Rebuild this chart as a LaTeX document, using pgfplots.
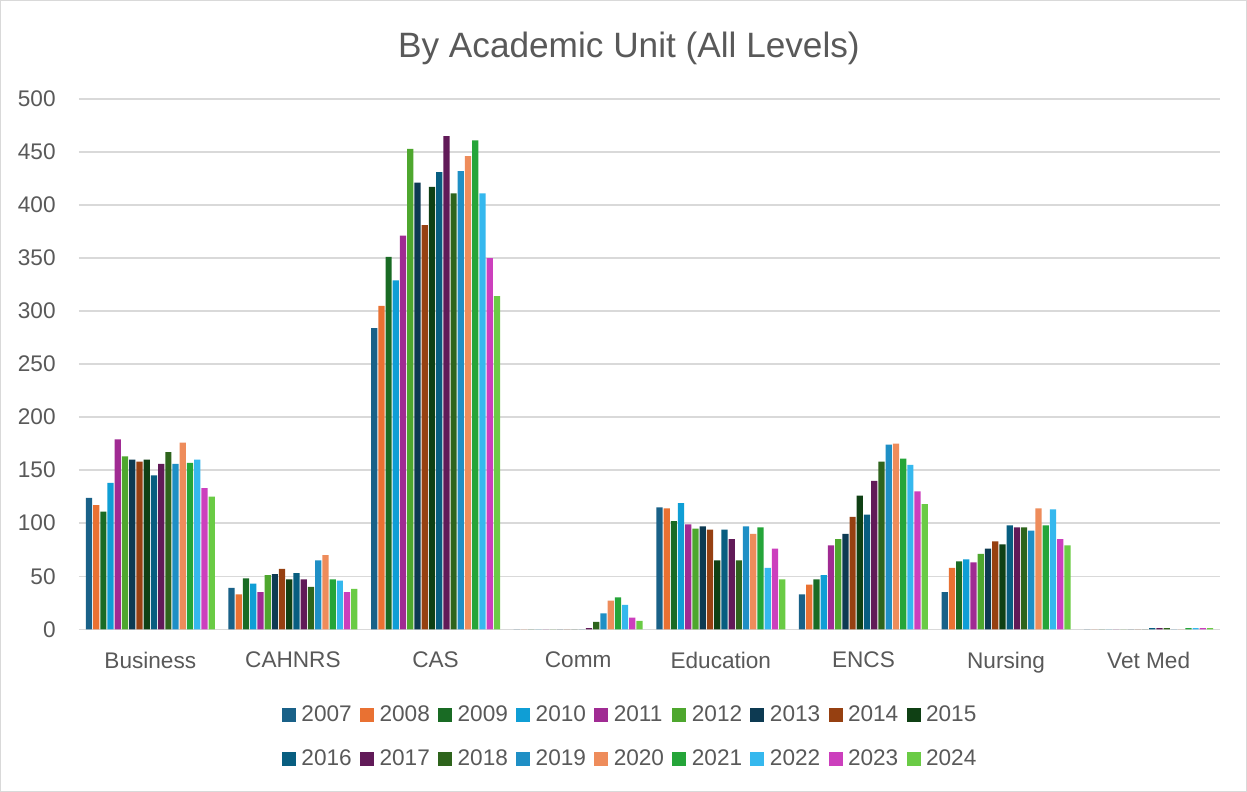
\documentclass[border=0pt]{standalone}
\usepackage{pgfplots}
\usepackage{pgfplotstable}
\usepackage{fontspec}
\setmainfont{Liberation Sans}
\pgfplotsset{compat=1.18}
\definecolor{txt}{HTML}{595959}
\definecolor{grd}{HTML}{D9D9D9}
\definecolor{c2007}{HTML}{196188}
\definecolor{c2008}{HTML}{E97132}
\definecolor{c2009}{HTML}{196B24}
\definecolor{c2010}{HTML}{0F9ED5}
\definecolor{c2011}{HTML}{A02B93}
\definecolor{c2012}{HTML}{4EA72E}
\definecolor{c2013}{HTML}{0D3A52}
\definecolor{c2014}{HTML}{964011}
\definecolor{c2015}{HTML}{0F4014}
\definecolor{c2016}{HTML}{085E80}
\definecolor{c2017}{HTML}{611A58}
\definecolor{c2018}{HTML}{2E641C}
\definecolor{c2019}{HTML}{1F8FC5}
\definecolor{c2020}{HTML}{EE8C5B}
\definecolor{c2021}{HTML}{25A539}
\definecolor{c2022}{HTML}{35B8EE}
\definecolor{c2023}{HTML}{CC3FBD}
\definecolor{c2024}{HTML}{6ACB45}
\newcommand{\lbl}{\fontsize{11.3}{13.5}\selectfont}
\pgfplotstableread{
x y2007 y2008 y2009 y2010 y2011 y2012 y2013 y2014 y2015 y2016 y2017 y2018 y2019 y2020 y2021 y2022 y2023 y2024
0 124 117 111 138 179 163 160 158 160 145 156 167 156 176 157 160 133 125
1 39 33 48 43 35 51 52 57 47 53 47 40 65 70 47 46 35 38
2 284 305 351 329 371 453 421 381 417 431 465 411 432 446 461 411 350 314
3 0 0 0 0 0 0 0 0 0 0 1 7 15 27 30 23 11 8
4 115 114 102 119 99 95 97 94 65 94 85 65 97 90 96 58 76 47
5 33 42 47 51 79 85 90 106 126 108 140 158 174 175 161 155 130 118
6 35 58 64 66 63 71 76 83 80 98 96 96 93 114 98 113 85 79
7 0 0 0 0 0 0 0 0 0 1 1 1 0 0 1 1 1 1
}\data
\begin{document}
\begin{tikzpicture}
\useasboundingbox (0,0) rectangle (623.5pt,396pt);
\fill[white] (0,0) rectangle (623.5pt,396pt);
\draw[grd, line width=0.5pt] (0.25pt,0.25pt) rectangle (623.25pt,395.75pt);
\begin{axis}[
  at={(39.5pt,81.35pt)}, anchor=south west,
  scale only axis, width=570.5pt, height=265.2pt,
  xmin=-0.5, xmax=7.5, ymin=0, ymax=500,
  ybar=0.5pt, bar width=3.11pt,
  axis line style={draw=none},
  ymajorgrids, grid style={grd, line width=0.75pt},
  ytick={0,50,...,500},
  xtick={0,...,7},
  xticklabels={Business,CAHNRS,CAS,Comm,Education,ENCS,Nursing,Vet Med},
  major tick length=0pt,
  tick style={draw=none},
  /pgf/number format/assume math mode=true,
  tick label style={font=\lbl, text=txt},
  yticklabel style={anchor=east, inner sep=0pt, xshift=-11.5pt},
  xticklabel style={anchor=north, inner sep=0pt, yshift=-11.2pt},
  title={By Academic Unit (All Levels)},
  title style={at={(0.482,1.1016)}, anchor=center, yshift=-7.5pt, font=\fontsize{17.6}{21}\selectfont, text=txt},
  legend columns=9,
  legend cell align=left,
  legend image code/.code={\fill[#1,draw=none] (0pt,-3.5pt) rectangle (7pt,3.5pt);},
  legend style={at={(0.4846,-0.2035)}, anchor=center, draw=none, fill=none,
    font=\lbl, text=txt,
    nodes={inner xsep=2.75pt, inner ysep=3pt},
    /tikz/every even column/.append style={column sep=1.4pt},
    row sep=6.5pt},
]
\pgfplotsinvokeforeach{2007,...,2024}{
  \addplot[fill=c#1, draw=none] table[x=x, y=y#1]{\data};
  \addlegendentry{#1}
}
\end{axis}
\end{tikzpicture}
\end{document}
